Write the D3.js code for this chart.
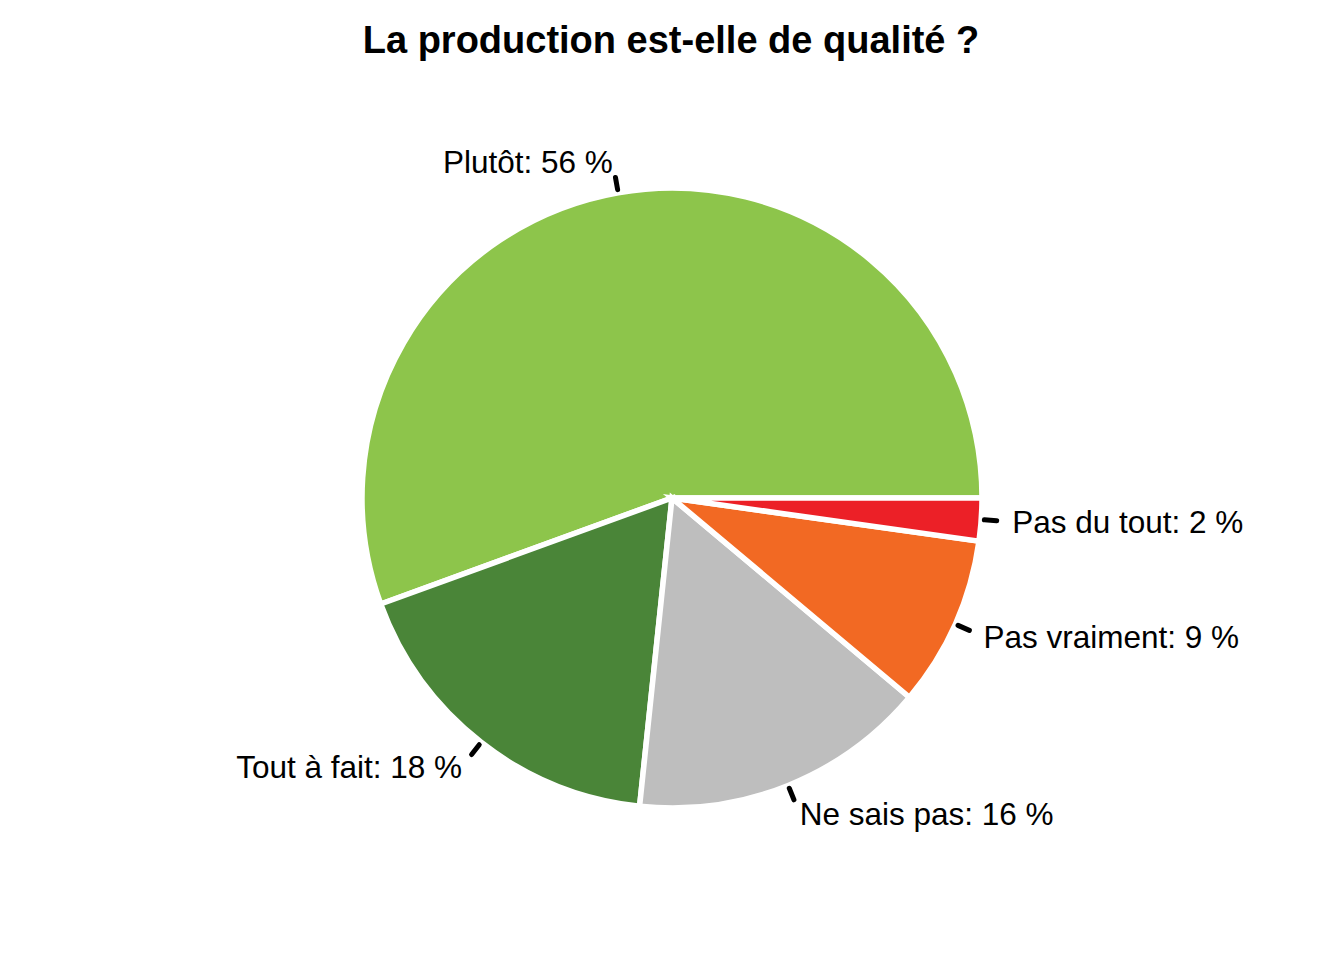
<!DOCTYPE html>
<html>
<head>
<meta charset="utf-8">
<script src="https://cdn.jsdelivr.net/npm/d3@7"></script>
<style>
  body { margin: 0; background: #fff; }
  text { font-family: "Liberation Sans", Arial, sans-serif; }
</style>
</head>
<body>
<div id="chart"></div>
<script>
// réponses (effectifs)
const categories = ["Plutôt", "Tout à fait", "Ne sais pas", "Pas vraiment", "Pas du tout"];
const counts = [25, 8, 7, 4, 1];
const colors = ["#8DC54B", "#4A8538", "#BEBEBE", "#F26923", "#EC2027"];
const title = "La production est-elle de qualité ?";

const width = 1344, height = 960;
const cx = 672, cy = 498, radius = 310;

const svg = d3.select("#chart").append("svg")
  .attr("width", width)
  .attr("height", height);

svg.append("text")
  .attr("x", 671)
  .attr("y", 53)
  .attr("text-anchor", "middle")
  .style("font-size", "38px")
  .style("font-weight", "bold")
  .text(title);

const total = d3.sum(counts);
const data = categories.map((c, i) => ({ cat: c, value: counts[i], color: colors[i] }));

// sens anti-horaire depuis 3h, comme pie() de R
const pie = d3.pie()
  .sort(null)
  .value((d) => d.value)
  .startAngle(Math.PI / 2)
  .endAngle(Math.PI / 2 - 2 * Math.PI);

const arc = d3.arc().innerRadius(0).outerRadius(radius);
const arcs = pie(data);

const g = svg.append("g").attr("transform", `translate(${cx}, ${cy})`);

g.selectAll("path.slice")
  .data(arcs)
  .enter()
  .append("path")
  .attr("class", "slice")
  .attr("d", arc)
  .attr("fill", (d) => d.data.color)
  .attr("stroke", "#fff")
  .attr("stroke-width", 5.5)
  .attr("stroke-linejoin", "miter");

const pos = (a, k) => [Math.sin(a) * radius * k, -Math.cos(a) * radius * k];

arcs.forEach((d) => {
  const mid = (d.startAngle + d.endAngle) / 2;
  const p0 = pos(mid, 1.01);
  const p1 = pos(mid, 1.05);
  const pl = pos(mid, 1.1);

  g.append("line")
    .attr("x1", p0[0]).attr("y1", p0[1])
    .attr("x2", p1[0]).attr("y2", p1[1])
    .attr("stroke", "#000")
    .attr("stroke-width", 5)
    .attr("stroke-linecap", "round");

  const pct = Math.round((d.data.value / total) * 100);
  g.append("text")
    .attr("x", pl[0])
    .attr("y", pl[1] + 11)
    .attr("text-anchor", pl[0] < 0 ? "end" : "start")
    .style("font-size", "31.5px")
    .text(`${d.data.cat}: ${pct} %`);
});
</script>
</body>
</html>
